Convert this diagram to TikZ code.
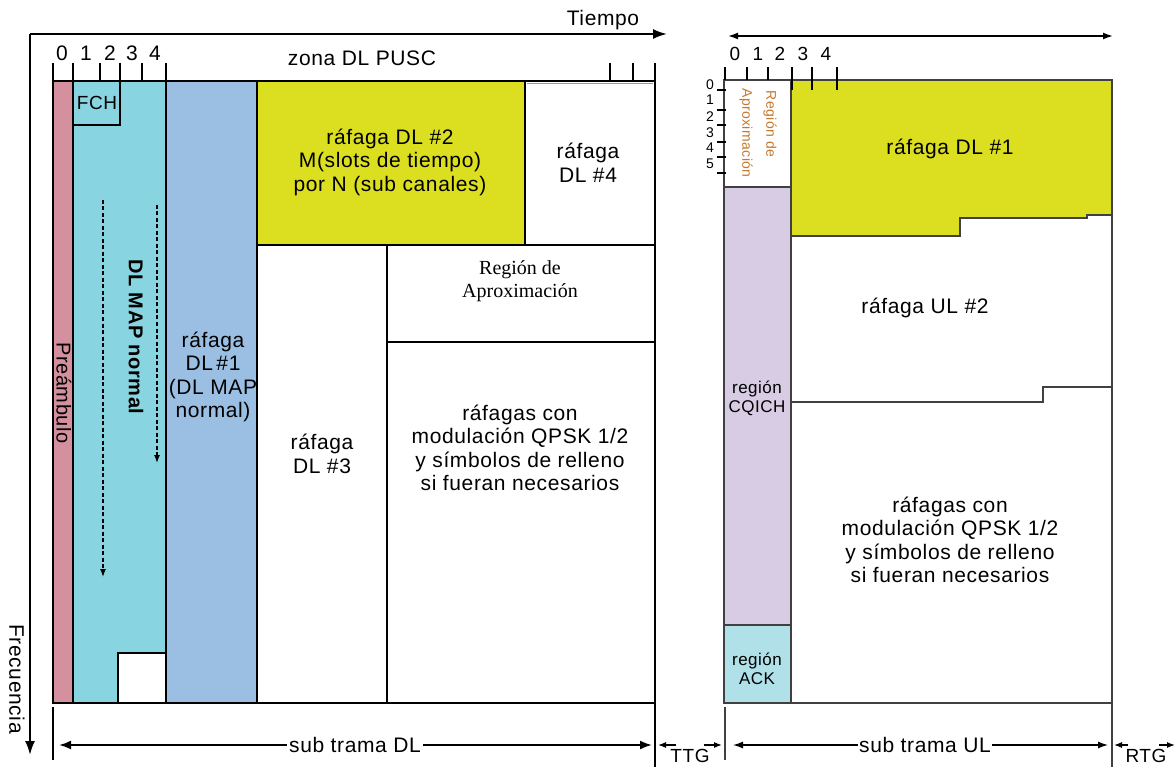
\documentclass[tikz,border=0pt]{standalone}
\usepackage{fontspec}
\setmainfont{Liberation Sans}[LetterSpace=3]
\newfontfamily\serifrm{Liberation Serif}
\usetikzlibrary{arrows.meta,positioning}

\definecolor{preamb}{RGB}{212,144,158}
\definecolor{mapcyan}{RGB}{136,212,224}
\definecolor{burstblue}{RGB}{155,191,227}
\definecolor{burstyel}{RGB}{220,222,32}
\definecolor{cqich}{RGB}{216,204,228}
\definecolor{ackcyan}{RGB}{176,224,232}
\definecolor{aproxor}{RGB}{196,120,44}

\tikzset{
  blk/.style={draw=black, line width=2.2pt},
  ulblk/.style={draw=black!75, line width=1.2pt},
  tickmark/.style={line width=2pt},
  txt/.style={font=\fontsize{21}{23.5}\selectfont, align=center, inner sep=1pt},
  smalltxt/.style={font=\fontsize{17}{19}\selectfont, align=center, inner sep=1pt},
  tinytxt/.style={font=\fontsize{14}{15}\selectfont, inner sep=0.5pt},
  gaptxt/.style={font=\fontsize{19}{20}\selectfont, inner sep=0.5pt},
  axis/.style={line width=2pt, -{Latex[length=14pt,width=10pt]}},
  dimarrow/.style={line width=2pt, {Latex[length=12pt,width=9pt]}-{Latex[length=12pt,width=9pt]}},
  uldim/.style={line width=1.3pt, {Latex[length=10pt,width=7pt]}-{Latex[length=10pt,width=7pt]}},
  gaparrow/.style={line width=1.2pt, -{Latex[length=8pt,width=6pt]}},
  mapflow/.style={line width=1.2pt, dash pattern=on 4pt off 2.5pt, -{Latex[length=8pt,width=6pt]}}
}

\begin{document}
\begin{tikzpicture}[x=1pt,y=-1pt]
\useasboundingbox (0,0) rectangle (1175,767);

% Ejes de tiempo y frecuencia
\coordinate (org) at (30,34);
\coordinate (tfin) at (667,34);
\coordinate (ffin) at (30,755);
\draw[axis] (org) -- (tfin);
\draw[axis] (org) -- (ffin);
\node[txt] (tiempo) at (603,20) {Tiempo};
\node[txt, rotate=-90] (frec) at (17,679) {Frecuencia};

% Subtrama DL
\filldraw[blk, fill=preamb] (53,81) rectangle (73,703);
\filldraw[blk, fill=mapcyan] (73,81) rectangle (166,703);
\draw[line width=1.3pt] (73,125) -| (120,81);
\filldraw[blk, fill=white] (118,653) rectangle (166,703);
\filldraw[blk, fill=burstblue] (166,81) rectangle (257,703);
\filldraw[blk, fill=burstyel] (257,81) rectangle (525,245);
\filldraw[blk, fill=white] (525,81) rectangle (655,245);
\draw[green, line width=1pt] (527,83.5) -- (653,83.5);
\filldraw[blk, fill=white] (257,245) rectangle (387,703);
\filldraw[blk, fill=white] (387,245) rectangle (655,342);
\filldraw[blk, fill=white] (387,342) rectangle (655,703);

% Marcas de simbolo DL
\foreach \x in {53,73,100,120,142,166,610,633,655}
  \draw[tickmark] (\x,63) -- (\x,81);
\foreach \n/\x in {0/62,1/86,2/110,3/132,4/155}
  \node[txt] (dlsym\n) at (\x,53) {\n};
\node[txt] (zona) at (362,58) {zona DL PUSC};

% Flujo del DL MAP
\coordinate (mapa) at (103,200);
\coordinate (mapb) at (103,577);
\coordinate (mapc) at (157,205);
\coordinate (mapd) at (157,463);
\draw[mapflow] (mapa) -- (mapb);
\draw[mapflow] (mapc) -- (mapd);

% Textos DL
\node[smalltxt, font=\fontsize{20}{22}\selectfont, rotate=-90] (preambulo) at (64,393) {Preámbulo};
\node[smalltxt, font=\fontsize{19}{20}\selectfont] (fch) at (97,103) {FCH};
\node[txt, font=\fontsize{20}{22}\selectfont\bfseries, rotate=-90] (dlmap) at (136,337) {DL MAP normal};
\node[txt] (dlone) at (213,377) {ráfaga\\DL\,\#1\\(DL MAP\\normal)};
\node[txt] (dltwo) at (390,162) {ráfaga DL \#2\\M(slots de tiempo)\\por N (sub canales)};
\node[txt] (dlfour) at (588,163) {ráfaga\\DL \#4};
\node[txt] (dlthree) at (322,454) {ráfaga\\DL \#3};
\node[txt, font=\fontsize{20}{23}\serifrm] (dlaprox) at (520,281) {Región de\\Aproximación};
\node[txt] (dlqpsk) at (520,448) {ráfagas con\\modulación QPSK 1/2\\y símbolos de relleno\\si fueran necesarios};

% Cotas DL y TTG
\coordinate (dlizq) at (53,707);
\coordinate (dlizqb) at (53,760);
\draw[line width=2pt] (dlizq) -- (dlizqb);
\coordinate (dlfin) at (655,703);
\coordinate (dlfinb) at (655,767);
\draw[line width=2.2pt] (dlfin) -- (dlfinb);
\coordinate (dla) at (59,745);
\coordinate (dlb) at (652,745);
\draw[dimarrow] (dla) -- (dlb);
\node[txt, fill=white, inner xsep=2pt] (subdl) at (355,745) {sub trama DL};
\coordinate (ttga) at (676,745);
\coordinate (ttgb) at (658,745);
\coordinate (ttgc) at (704,745);
\coordinate (ttgd) at (722,745);
\draw[gaparrow] (ttga) -- (ttgb);
\draw[gaparrow] (ttgc) -- (ttgd);
\node[gaptxt] (ttg) at (690,756) {TTG};

% Subtrama UL
\coordinate (ula) at (728,36);
\coordinate (ulb) at (1113,36);
\draw[uldim, line width=1.6pt] (ula) -- (ulb);
\filldraw[ulblk, fill=white] (724,80) rectangle (791,187);
\filldraw[ulblk, fill=cqich] (724,187) rectangle (791,625);
\filldraw[ulblk, fill=ackcyan] (724,625) rectangle (791,703);
\filldraw[ulblk, fill=burstyel] (791,80) -- (1112,80) -- (1112,215) -- (1087,215)
  -- (1087,218) -- (960,218) -- (960,236) -- (791,236) -- cycle;
\draw[ulblk] (791,402) -- (1043,402) -- (1043,387) -- (1112,387);
\draw[ulblk] (1112,80) -- (1112,767);
\draw[ulblk] (791,703) -- (1112,703);

% Marcas de simbolo UL
\foreach \x in {725,747,768}
  \draw[line width=1.4pt] (\x,67) -- (\x,80);
\foreach \x in {792,812,837}
  \draw[line width=1.4pt] (\x,67) -- (\x,90);
\foreach \n/\x in {0/735,1/758,2/780,3/803,4/826}
  \node[txt, font=\fontsize{19}{20}\selectfont] (ulsym\n) at (\x,54) {\n};
\foreach \n/\y in {0/85,1/100,2/117,3/133,4/148,5/164}
  \node[tinytxt] (ulsub\n) at (710,\y) {\n};
\foreach \y in {90,110,125,142,157,173}
  \draw[line width=1.2pt] (717,\y) -- (726,\y);

% Textos UL
\node[tinytxt, text=aproxor, rotate=-90] (ulreg) at (770,124) {Región de};
\node[tinytxt, text=aproxor, rotate=-90] (ulaprox) at (746,133) {Aproximación};
\node[smalltxt] (cqichlbl) at (757,398) {región\\CQICH};
\node[smalltxt] (acklbl) at (757,669) {región\\ACK};
\node[txt] (ulone) at (950,149) {ráfaga DL \#1};
\node[txt] (ultwo) at (925,308) {ráfaga UL \#2};
\node[txt] (ulqpsk) at (950,540) {ráfagas con\\modulación QPSK 1/2\\y símbolos de relleno\\si fueran necesarios};

% Cotas UL y RTG
\coordinate (ulizq) at (725,707);
\coordinate (ulizqb) at (725,760);
\draw[ulblk] (ulizq) -- (ulizqb);
\coordinate (ulc) at (733,745);
\coordinate (uld) at (1108,745);
\draw[uldim] (ulc) -- (uld);
\node[txt, fill=white, inner xsep=1pt] (subul) at (925,745) {sub trama UL};
\coordinate (rtga) at (1128,745);
\coordinate (rtgb) at (1114,745);
\coordinate (rtgc) at (1159,745);
\coordinate (rtgd) at (1175,745);
\draw[gaparrow] (rtga) -- (rtgb);
\draw[gaparrow] (rtgc) -- (rtgd);
\node[gaptxt] (rtg) at (1146,756) {RTG};
\end{tikzpicture}
\end{document}
